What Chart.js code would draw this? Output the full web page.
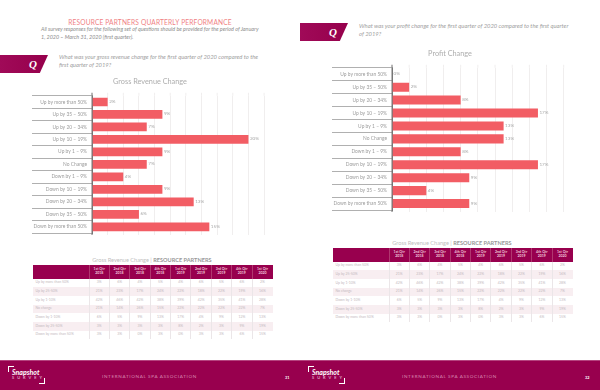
<!DOCTYPE html>
<html>
<head>
<meta charset="utf-8">
<script src="https://cdn.jsdelivr.net/npm/chart.js@4"></script>
<style>
html, body { margin: 0; padding: 0; background: #fff; }
body { position: relative; width: 600px; height: 390px; overflow: hidden; font-family: Lato, sans-serif; filter: blur(0.3px); }
.abs { position: absolute; white-space: nowrap; line-height: 1; }
canvas { position: absolute; }
.heading { left: 0; width: 300px; top: 18.5px; text-align: center; font-size: 6.6px; color: #f07f84; letter-spacing: .16px; }
.note { font-size: 5.4px; font-style: italic; color: #8c8c8c; }
.quest { font-size: 5.85px; font-style: italic; color: #a0a0a0; }
.qtag { position: absolute; width: 48px; height: 18px; background: linear-gradient(90deg, #a00a58, #96004c); clip-path: polygon(0 0, 100% 0, 83% 100%, 0 100%); }
.qmark { font-family: "Liberation Serif", serif; font-weight: bold; font-style: italic; color: #fff; font-size: 11px; }
.ttl { text-align: center; font-size: 5.6px; color: #c0c0c0; }
.ttl b { color: #989898; }
table { position: absolute; border-collapse: collapse; table-layout: fixed; width: 240px; font-size: 3.5px; color: #c4bac0; line-height: 1; }
th { background: #98004e; color: #f0c8da; height: 13.6px; padding: 0; font-weight: bold; border-left: 1px solid #b0376f; }
td { height: 8.7px; padding: 0; text-align: center; border-left: 1px solid #ebe6e8; }
td:first-child { text-align: left; padding-left: 3px; border-left: 0; }
th:first-child { width: 56px; border-left: 0; }
tr.alt td { background: #f8eef1; }
.foot { position: absolute; top: 360px; width: 300px; height: 30px; background: #98004e; border-top: 1px solid #b5447f; box-sizing: border-box; }
.snap { font-size: 7px; font-weight: bold; font-style: italic; color: #fff; }
.surv { font-size: 4px; color: #f3d5e3; letter-spacing: 3px; }
.org { font-size: 4.6px; color: #d98ab2; letter-spacing: .65px; }
.pg { font-size: 3.8px; font-weight: bold; color: #fff; }
.brk { position: absolute; width: 6px; height: 6px; border: 1px solid #fff; box-sizing: border-box; }
</style>
</head>
<body>
<div class="abs heading">RESOURCE PARTNERS QUARTERLY PERFORMANCE</div>
<div class="abs note" style="left:41px;top:27px">All survey responses for the following set of questions should be provided for the period of January</div>
<div class="abs note" style="left:41px;top:35px">1, 2020 – March 31, 2020 (first quarter).</div>
<div class="qtag" style="left:0;top:55px"></div>
<div class="abs qmark" style="left:29px;top:59px">Q</div>
<div class="abs quest" style="left:59px;top:54px">What was your gross revenue change for the first quarter of 2020 compared to the</div>
<div class="abs quest" style="left:59px;top:62px">first quarter of 2019?</div>

<div class="qtag" style="left:300px;top:23px"></div>
<div class="abs qmark" style="left:329px;top:27px">Q</div>
<div class="abs quest" style="left:359px;top:23px">What was your profit change for the first quarter of 2020 compared to the first quarter</div>
<div class="abs quest" style="left:359px;top:31px">of 2019?</div>

<canvas id="grossChart" style="left:0;top:70px"></canvas>
<canvas id="profitChart" style="left:300px;top:42px"></canvas>

<div class="abs ttl" style="left:0;width:304px;top:257px">Gross Revenue Change | <b>RESOURCE PARTNERS</b></div>
<table id="tableLeft" style="left:32.5px;top:265px"></table>
<div class="abs ttl" style="left:300px;width:304px;top:240px">Gross Revenue Change | <b>RESOURCE PARTNERS</b></div>
<table id="tableRight" style="left:332.5px;top:248px"></table>

<div class="foot" style="left:0"></div>
<div class="foot" style="left:300px"></div>
<div class="brk" style="left:8px;top:366px;border-right:0;border-bottom:0"></div>
<div class="brk" style="left:39px;top:378px;border-left:0;border-top:0"></div>
<div class="abs snap" style="left:12px;top:368.5px">Snapshot</div>
<div class="abs surv" style="left:12px;top:376px">SURVEY</div>
<div class="abs org" style="left:102px;top:374px">INTERNATIONAL SPA ASSOCIATION</div>
<div class="abs pg" style="left:285px;top:376px">31</div>
<div class="brk" style="left:308px;top:366px;border-right:0;border-bottom:0"></div>
<div class="brk" style="left:339px;top:378px;border-left:0;border-top:0"></div>
<div class="abs snap" style="left:312px;top:368.5px">Snapshot</div>
<div class="abs surv" style="left:312px;top:376px">SURVEY</div>
<div class="abs org" style="left:402px;top:374px">INTERNATIONAL SPA ASSOCIATION</div>
<div class="abs pg" style="left:585px;top:376px">32</div>

<script>
var changeLabels = ['Up by more than 50%', 'Up by 35 – 50%', 'Up by 20 – 34%', 'Up by 10 – 19%', 'Up by 1 – 9%',
  'No Change', 'Down by 1 – 9%', 'Down by 10 – 19%', 'Down by 20 – 34%', 'Down by 35 – 50%', 'Down by more than 50%'];
var grossValues = [2, 9, 7, 20, 9, 7, 4, 9, 13, 6, 15];
var profitValues = [0, 2, 8, 17, 13, 13, 8, 17, 9, 4, 9];

var quarterLabels = ['1st Qtr 2018', '2nd Qtr 2018', '3rd Qtr 2018', '4th Qtr 2018', '1st Qtr 2019',
  '2nd Qtr 2019', '3rd Qtr 2019', '4th Qtr 2019', '1st Qtr 2020'];
var rowLabels = ['Up by more than 50%', 'Up by 25-50%', 'Up by 1-10%', 'No change', 'Down by 1-10%', 'Down by 25-50%', 'Down by more than 50%'];
var rowUp50 = ['3%', '6%', '4%', '5%', '4%', '6%', '5%', '6%', '2%'];
var rowUp25 = ['21%', '23%', '17%', '24%', '22%', '18%', '22%', '19%', '16%'];
var rowUp1 = ['42%', '46%', '42%', '38%', '39%', '42%', '35%', '41%', '28%'];
var rowNone = ['21%', '14%', '26%', '15%', '22%', '22%', '22%', '22%', '7%'];
var rowDown1 = ['6%', '5%', '9%', '13%', '17%', '4%', '9%', '12%', '13%'];
var rowDown25 = ['3%', '3%', '3%', '3%', '8%', '2%', '3%', '9%', '19%'];
var rowDown50 = ['3%', '3%', '0%', '3%', '0%', '3%', '3%', '6%', '15%'];
var tableRows = [rowUp50, rowUp25, rowUp1, rowNone, rowDown1, rowDown25, rowDown50];

function fillTable(id) {
  var html = '<tr><th></th>';
  quarterLabels.forEach(function (q) {
    html += '<th>' + q.replace(' 20', '<br>20') + '</th>';
  });
  html += '</tr>';
  tableRows.forEach(function (row, i) {
    html += '<tr class="' + (i % 2 ? 'alt' : '') + '"><td>' + rowLabels[i] + '</td>';
    row.forEach(function (v) { html += '<td>' + v + '</td>'; });
    html += '</tr>';
  });
  document.getElementById(id).innerHTML = html;
}
fillTable('tableLeft');
fillTable('tableRight');

// value labels next to the bars, and the axis running a little past the plot
const barExtras = {
  id: 'barExtras',
  afterDatasetsDraw(chart) {
    var c = chart.ctx, area = chart.chartArea;
    c.save();
    c.strokeStyle = '#f0eeee';
    chart.scales.x.ticks.forEach(function (t, i) {
      var x = chart.scales.x.getPixelForTick(i);
      c.beginPath(); c.moveTo(x, area.top - 3); c.lineTo(x, area.top); c.stroke();
    });
    c.strokeStyle = '#777';
    c.beginPath(); c.moveTo(area.left, area.top - 3); c.lineTo(area.left, area.bottom + 2); c.stroke();
    c.fillStyle = '#a8a8a8';
    c.font = '4.6px Lato';
    c.textBaseline = 'middle';
    chart.getDatasetMeta(0).data.forEach(function (bar, i) {
      c.fillText(chart.data.datasets[0].data[i] + '%', bar.x + 1.5, bar.y - 0.5);
    });
    c.restore();
  }
};

function makeChart(id, title, values, max, size, pad) {
  var cv = document.getElementById(id);
  cv.width = size[0];
  cv.height = size[1];
  cv.style.width = size[0] + 'px';
  cv.style.height = size[1] + 'px';
  return new Chart(cv, {
    type: 'bar',
    plugins: [barExtras],
    data: {
      labels: changeLabels,
      datasets: [{
        data: values,
        backgroundColor: '#f25d64',
        barPercentage: 0.7,
        categoryPercentage: 1,
      }],
    },
    options: {
      indexAxis: 'y',
      responsive: false,
      animation: false,
      layout: { padding: pad },
      plugins: {
        legend: { display: false },
        tooltip: { enabled: false },
        title: {
          display: true,
          text: title,
          color: '#adadad',
          font: { family: 'Lato', size: 7.3, weight: 'normal' },
          padding: { top: 0, bottom: 10 },
        },
      },
      scales: {
        x: {
          min: 0,
          max: max,
          ticks: { display: false, stepSize: 2, includeBounds: false },
          border: { display: false },
          grid: { color: '#f0eeee', tickLength: 2, lineWidth: 1 },
        },
        y: {
          afterFit: function (axis) { axis.width = 60; },
          ticks: {
            autoSkip: false,
            padding: -55,
            color: '#9c9c9c',
            font: { family: 'Lato', size: 4.9 },
          },
          border: { color: '#777', width: 1 },
          grid: {
            offset: true,
            drawOnChartArea: false,
            tickLength: 60,
            tickColor: '#b0b0b0',
          },
        },
      },
    },
  });
}

// max runs a bit past the last gridline so the title centres on the page
makeChart('grossChart', 'Gross Revenue Change', grossValues, 22.5, [300, 170],
  { left: 32, right: 32, top: 7, bottom: 5 });
makeChart('profitChart', 'Profit Change', profitValues, 20.5, [300, 175],
  { left: 32, right: 32, top: 7, bottom: 5 });
</script>
</body>
</html>
